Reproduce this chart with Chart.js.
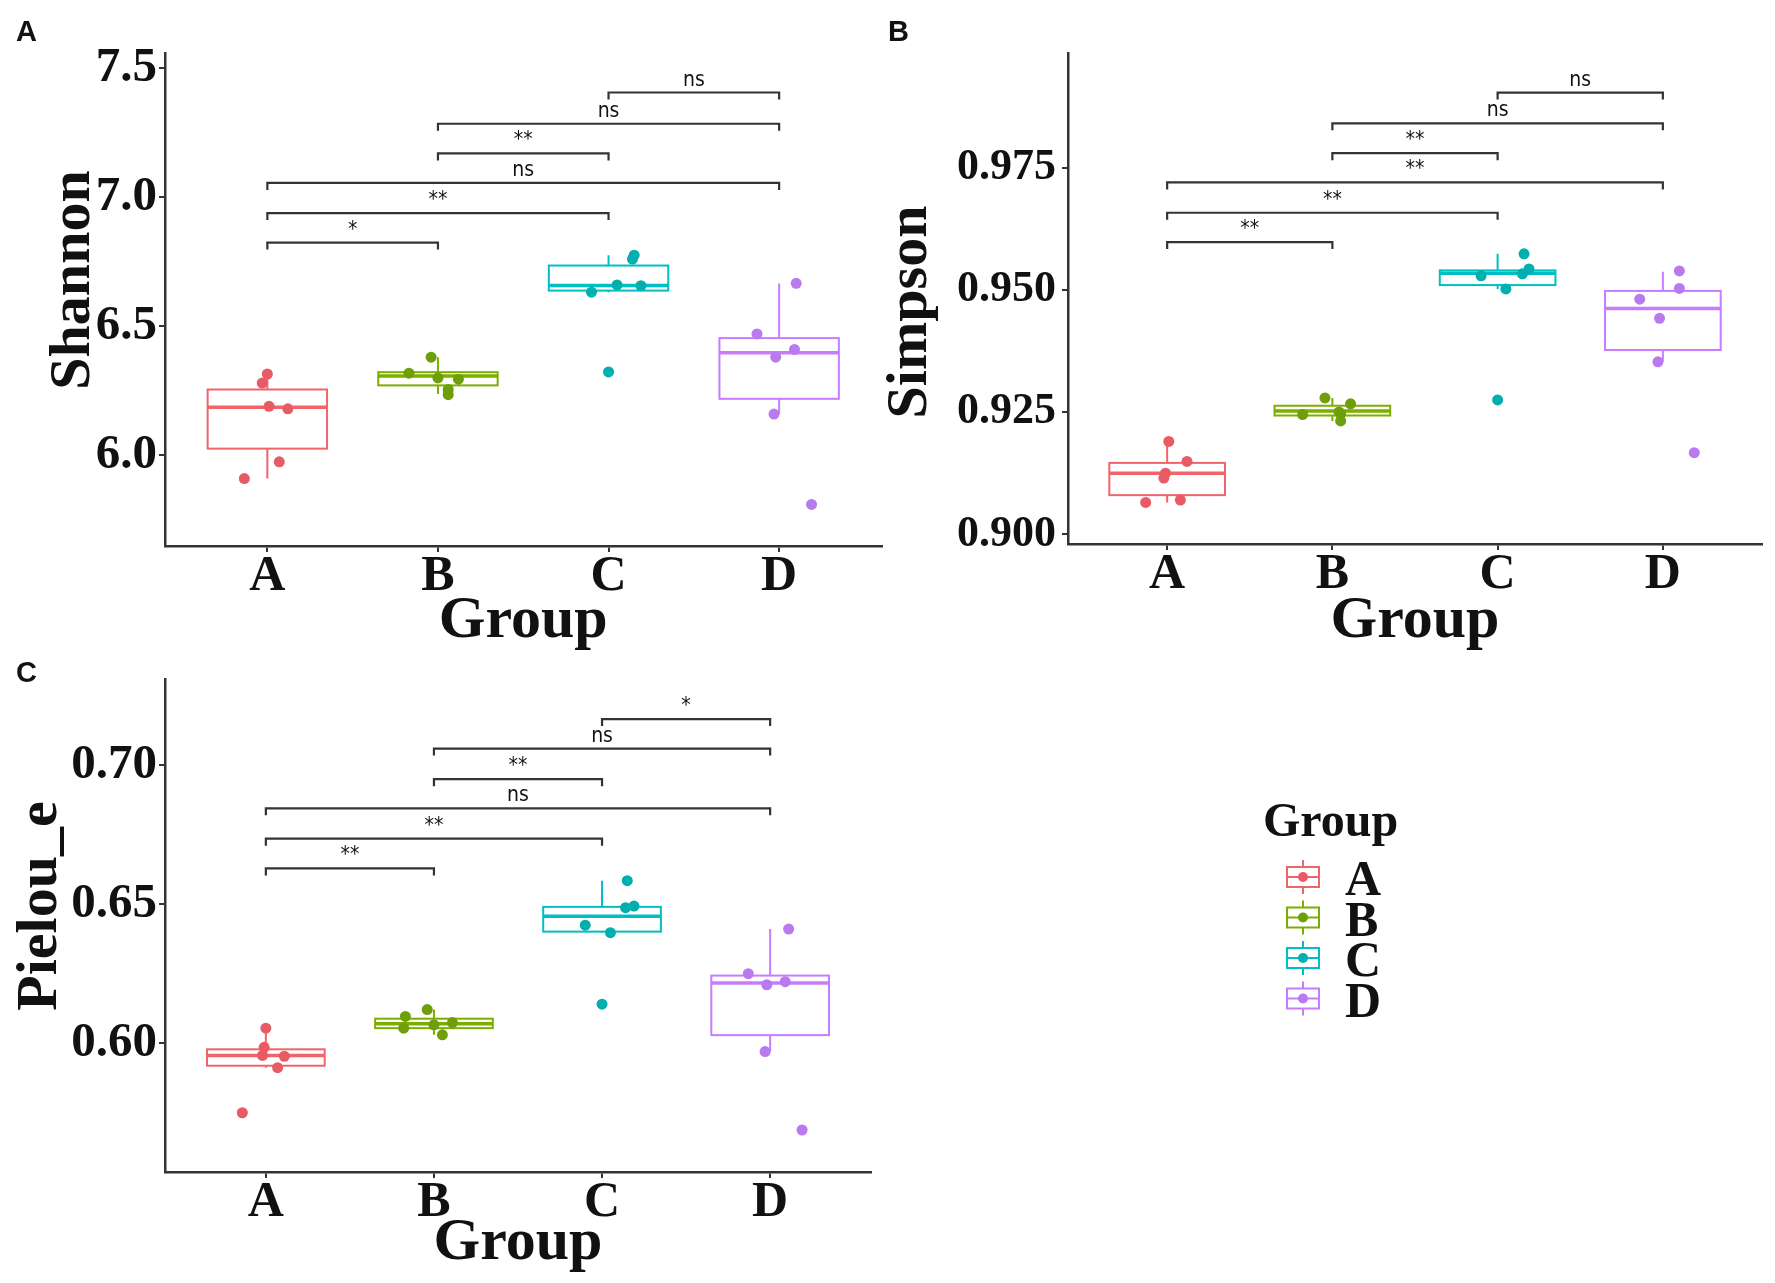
<!DOCTYPE html>
<html>
<head>
<meta charset="utf-8">
<script src="https://cdn.jsdelivr.net/npm/chart.js@4/dist/chart.umd.min.js"></script>
<style>
  html, body { margin: 0; padding: 0; background: #fff; }
  #wrap { position: relative; width: 1775px; height: 1283px; overflow: hidden; background: #fff; }
  canvas { position: absolute; }
</style>
</head>
<body>
<div id="wrap">
  <canvas id="panelA" width="887" height="650" style="left:0;top:0"></canvas>
  <canvas id="panelB" width="895" height="650" style="left:880px;top:0"></canvas>
  <canvas id="panelC" width="1775" height="643" style="left:0;top:640px"></canvas>
</div>
<script>
const groups = ['A', 'B', 'C', 'D'];
const boxColors = ['#F0646A', '#7CAE00', '#00BFC4', '#C77CFF'];
const pointColors = ['#E85A64', '#6E9E0A', '#00AFAE', '#B87AEE'];

// Shannon
const shannonTicks = [6.0, 6.5, 7.0, 7.5];
const shannonBox = [ // lo, q1, median, q3, hi
  [5.91, 6.026, 6.186, 6.255, 6.315],
  [6.238, 6.271, 6.307, 6.322, 6.38],
  [6.632, 6.638, 6.658, 6.735, 6.775],
  [6.16, 6.219, 6.397, 6.454, 6.665]
];
const shannonX = [
  [0.865, 1.07, 1.0, 0.97, 1.01, 1.12],
  [1.96, 1.83, 2.0, 2.12, 2.06, 2.06],
  [3.15, 3.14, 2.9, 3.05, 3.19, 3.0],
  [4.1, 3.87, 4.09, 3.98, 3.97, 4.19]
];
const shannonY = [
  [5.91, 5.975, 6.315, 6.28, 6.19, 6.18],
  [6.38, 6.318, 6.30, 6.295, 6.255, 6.235],
  [6.775, 6.76, 6.632, 6.66, 6.657, 6.323],
  [6.666, 6.47, 6.41, 6.38, 6.16, 5.81]
];
const shannonSig = [[1, 2, 6.824, '*'], [1, 3, 6.938, '**'], [1, 4, 7.055, 'ns'], [2, 3, 7.169, '**'], [2, 4, 7.284, 'ns'], [3, 4, 7.405, 'ns']];

// Simpson
const simpsonTicks = [0.900, 0.925, 0.950, 0.975];
const simpsonBox = [
  [0.9065, 0.908, 0.9125, 0.9146, 0.919],
  [0.9232, 0.9243, 0.9252, 0.9263, 0.9279],
  [0.9502, 0.951, 0.9534, 0.954, 0.9574],
  [0.9353, 0.9377, 0.9462, 0.9498, 0.9537]
];
const simpsonX = [
  [1.01, 1.12, 0.99, 0.98, 1.08, 0.87],
  [1.955, 2.11, 1.82, 2.05, 2.05, 2.04],
  [3.16, 2.9, 3.19, 3.15, 3.05, 3.0],
  [4.1, 4.1, 3.86, 3.98, 3.97, 4.19]
];
const simpsonY = [
  [0.919, 0.9149, 0.9125, 0.9115, 0.907, 0.9065],
  [0.9279, 0.9267, 0.9245, 0.9232, 0.9247, 0.925],
  [0.9574, 0.9529, 0.9543, 0.9533, 0.9502, 0.9275],
  [0.9539, 0.9503, 0.9481, 0.9442, 0.9353, 0.9167]
];
const simpsonSig = [[1, 2, 0.9598, '**'], [1, 3, 0.9658, '**'], [1, 4, 0.972, '**'], [2, 3, 0.978, '**'], [2, 4, 0.9841, 'ns'], [3, 4, 0.9904, 'ns']];

// Pielou_e
const pielouTicks = [0.60, 0.65, 0.70];
const pielouBox = [
  [0.5912, 0.5919, 0.5956, 0.5978, 0.6054],
  [0.603, 0.6054, 0.607, 0.6088, 0.6121],
  [0.6397, 0.6401, 0.6456, 0.649, 0.6584],
  [0.597, 0.6029, 0.6216, 0.6243, 0.641]
];
const pielouX = [
  [1.0, 0.99, 0.98, 1.11, 1.07, 0.86],
  [1.96, 1.83, 1.82, 2.11, 2.05, 2.0],
  [3.15, 3.19, 3.14, 2.9, 3.05, 3.0],
  [4.11, 3.87, 4.09, 3.98, 3.97, 4.19]
];
const pielouY = [
  [0.6054, 0.5985, 0.5956, 0.5953, 0.5912, 0.575],
  [0.6121, 0.6096, 0.6054, 0.6074, 0.603, 0.6066],
  [0.6584, 0.6493, 0.6487, 0.6424, 0.6397, 0.614],
  [0.641, 0.625, 0.6221, 0.621, 0.597, 0.5688]
];
const pielouSig = [[1, 2, 0.6628, '**'], [1, 3, 0.6735, '**'], [1, 4, 0.6844, 'ns'], [2, 3, 0.6949, '**'], [2, 4, 0.7059, 'ns'], [3, 4, 0.7165, '*']];

const serif = '"Liberation Serif", "Times New Roman", serif';
const sans = '"Liberation Sans", Arial, sans-serif';
const narrow = '"Liberation Sans Narrow", "DejaVu Sans Condensed", sans-serif';
const ink = '#111';
const axisColor = '#333';
const boxWidth = 0.7;

function crearPanel(id, p) {
  const canvas = document.getElementById(id);
  const W = canvas.width, H = canvas.height;

  const datasets = groups.map((g, i) => ({
    label: g,
    data: p.xs[i].map((x, k) => ({ x: x, y: p.ys[i][k] })),
    pointRadius: 5.5,
    pointBackgroundColor: pointColors[i],
    pointBorderWidth: 0
  }));

  const dibujo = {
    id: 'dibujo_' + id,
    // cajas y bigotes
    beforeDatasetsDraw(chart) {
      const { ctx, scales: { x, y } } = chart;
      p.box.forEach((b, i) => {
        const [lo, q1, med, q3, hi] = b;
        const cx = x.getPixelForValue(i + 1);
        const left = x.getPixelForValue(i + 1 - boxWidth / 2);
        const right = x.getPixelForValue(i + 1 + boxWidth / 2);
        ctx.save();
        ctx.strokeStyle = boxColors[i];
        ctx.lineWidth = 2;
        ctx.beginPath();
        ctx.moveTo(cx, y.getPixelForValue(q3));
        ctx.lineTo(cx, y.getPixelForValue(hi));
        ctx.moveTo(cx, y.getPixelForValue(q1));
        ctx.lineTo(cx, y.getPixelForValue(lo));
        ctx.stroke();
        ctx.strokeRect(left, y.getPixelForValue(q3), right - left, y.getPixelForValue(q1) - y.getPixelForValue(q3));
        ctx.lineWidth = 3.5;
        ctx.beginPath();
        ctx.moveTo(left, y.getPixelForValue(med));
        ctx.lineTo(right, y.getPixelForValue(med));
        ctx.stroke();
        ctx.restore();
      });
    },
    // corchetes de significancia
    afterDatasetsDraw(chart) {
      const { ctx, scales: { x, y } } = chart;
      ctx.save();
      ctx.strokeStyle = axisColor;
      ctx.fillStyle = ink;
      ctx.lineWidth = 2.2;
      ctx.font = '21px ' + narrow;
      ctx.textAlign = 'center';
      ctx.textBaseline = 'alphabetic';
      p.sig.forEach(s => {
        const x1 = x.getPixelForValue(s[0]);
        const x2 = x.getPixelForValue(s[1]);
        const yy = y.getPixelForValue(s[2]);
        ctx.beginPath();
        ctx.moveTo(x1, yy + 7);
        ctx.lineTo(x1, yy);
        ctx.lineTo(x2, yy);
        ctx.lineTo(x2, yy + 7);
        ctx.stroke();
        ctx.fillText(s[3], (x1 + x2) / 2, yy - 7);
      });
      ctx.restore();
    },
    afterDraw(chart) {
      const ctx = chart.ctx;
      ctx.save();
      ctx.fillStyle = ink;
      ctx.font = 'bold 29px ' + sans;
      ctx.textAlign = 'left';
      ctx.textBaseline = 'alphabetic';
      ctx.fillText(p.letter, p.letterPos[0], p.letterPos[1]);

      ctx.translate(p.titlePos[0], p.titlePos[1]);
      ctx.rotate(-Math.PI / 2);
      ctx.font = 'bold 58px ' + serif;
      ctx.textAlign = 'center';
      ctx.fillText(p.yTitle, 0, 0);
      ctx.restore();

      if (p.legend) {
        const lg = p.legend;
        ctx.save();
        ctx.fillStyle = ink;
        ctx.font = 'bold 48px ' + serif;
        ctx.textAlign = 'left';
        ctx.textBaseline = 'alphabetic';
        ctx.fillText('Group', lg.x, lg.titleY);
        groups.forEach((g, i) => {
          const cy = lg.keyY + i * lg.step;
          const cx = lg.keyX;
          ctx.strokeStyle = boxColors[i];
          ctx.lineWidth = 2;
          ctx.strokeRect(cx - 16, cy - 10, 32, 20);
          ctx.beginPath();
          ctx.moveTo(cx - 16, cy); ctx.lineTo(cx + 16, cy);
          ctx.moveTo(cx, cy - 10); ctx.lineTo(cx, cy - 17);
          ctx.moveTo(cx, cy + 10); ctx.lineTo(cx, cy + 17);
          ctx.stroke();
          ctx.fillStyle = pointColors[i];
          ctx.beginPath();
          ctx.arc(cx, cy, 5, 0, Math.PI * 2);
          ctx.fill();
          ctx.fillStyle = ink;
          ctx.font = 'bold 50px ' + serif;
          ctx.fillText(g, lg.textX, lg.textY + i * lg.step);
        });
        ctx.restore();
      }
    }
  };

  return new Chart(canvas.getContext('2d'), {
    type: 'scatter',
    data: { datasets: datasets },
    plugins: [dibujo],
    options: {
      responsive: false,
      animation: false,
      layout: { padding: { left: 0, top: p.area.top, right: W - p.area.right, bottom: 0 } },
      plugins: { legend: { display: false }, tooltip: { enabled: false } },
      scales: {
        x: {
          type: 'linear',
          min: 0.4,
          max: 4.6,
          afterBuildTicks: s => { s.ticks = groups.map((g, i) => ({ value: i + 1 })); },
          afterFit: s => { s.height = H - p.area.bottom; },
          ticks: {
            callback: v => groups[Math.round(v) - 1],
            font: { family: serif, size: 50, weight: 'bold', lineHeight: 1 },
            color: ink,
            padding: 0,
            maxRotation: 0
          },
          grid: { drawOnChartArea: false, tickLength: 6, color: axisColor, lineWidth: 2 },
          border: { color: axisColor, width: 2.5 },
          title: {
            display: true,
            text: 'Group',
            color: ink,
            font: { family: serif, size: 60, weight: 'bold', lineHeight: 0.7 },
            padding: { top: 0, bottom: p.xTitlePad }
          }
        },
        y: {
          min: p.min,
          max: p.max,
          afterBuildTicks: s => { s.ticks = p.ticks.map(v => ({ value: v })); },
          afterFit: s => { s.width = p.area.left; },
          ticks: {
            callback: v => v.toFixed(p.dec),
            font: { family: serif, size: p.tickSize, weight: 'bold', lineHeight: 1 },
            color: ink,
            padding: p.tickPad
          },
          grid: { drawOnChartArea: false, tickLength: 6, color: axisColor, lineWidth: 2 },
          border: { color: axisColor, width: 2.5 }
        }
      }
    }
  });
}

crearPanel('panelA', {
  box: shannonBox, xs: shannonX, ys: shannonY, sig: shannonSig, ticks: shannonTicks,
  min: 5.649, max: 7.558, dec: 1, tickSize: 49, tickPad: 2,
  area: { left: 165, top: 53, right: 882, bottom: 546 },
  xTitlePad: 8, yTitle: 'Shannon', titlePos: [89, 280],
  letter: 'A', letterPos: [16, 41]
});

crearPanel('panelB', {
  box: simpsonBox, xs: simpsonX, ys: simpsonY, sig: simpsonSig, ticks: simpsonTicks,
  min: 0.898, max: 0.9985, dec: 3, tickSize: 44, tickPad: 6,
  area: { left: 188, top: 53, right: 882, bottom: 544 },
  xTitlePad: 8, yTitle: 'Simpson', titlePos: [46, 312],
  letter: 'B', letterPos: [8, 41]
});

crearPanel('panelC', {
  box: pielouBox, xs: pielouX, ys: pielouY, sig: pielouSig, ticks: pielouTicks,
  min: 0.5537, max: 0.7309, dec: 2, tickSize: 49, tickPad: 2,
  area: { left: 165, top: 39, right: 871, bottom: 532 },
  xTitlePad: 19, yTitle: 'Pielou_e', titlePos: [56, 266],
  letter: 'C', letterPos: [16, 42],
  legend: { x: 1263, titleY: 196, keyX: 1303, keyY: 237, step: 40.5, textX: 1345, textY: 255 }
});
</script>
</body>
</html>
